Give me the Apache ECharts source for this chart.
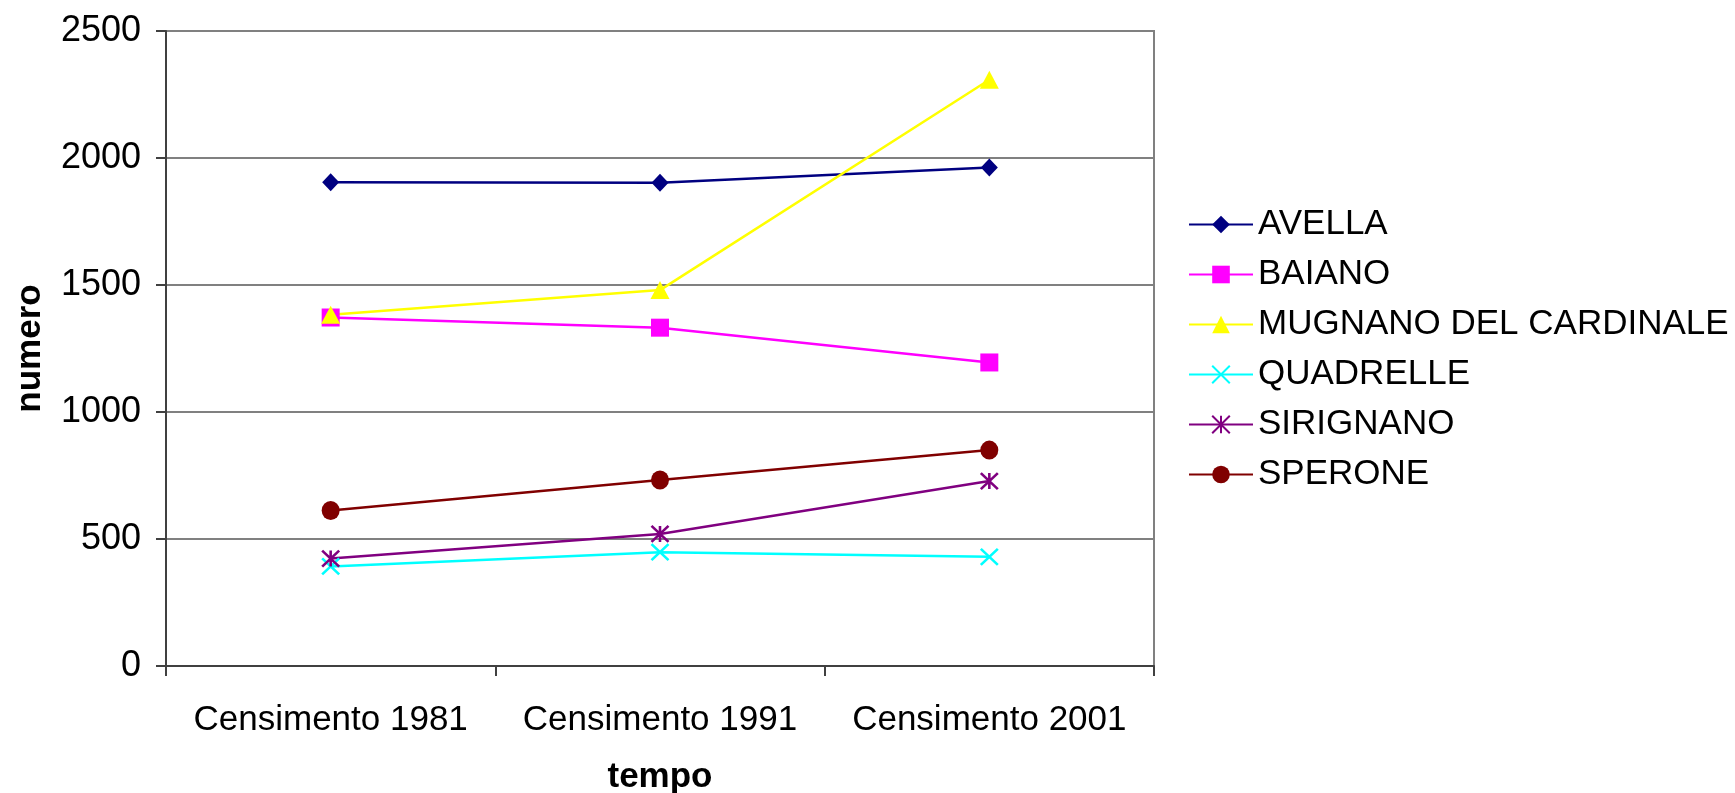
<!DOCTYPE html>
<html>
<head>
<meta charset="utf-8">
<script src="https://cdn.jsdelivr.net/npm/echarts@6/dist/echarts.min.js"></script>
<style>
html,body{margin:0;padding:0;background:#fff;}
#chart{width:1735px;height:793px;}
</style>
</head>
<body>
<div id="chart"></div>
<script>
const categories = ['Censimento 1981', 'Censimento 1991', 'Censimento 2001'];
const seriesNames = ['AVELLA', 'BAIANO', 'MUGNANO DEL CARDINALE', 'QUADRELLE', 'SIRIGNANO', 'SPERONE'];
const avella = [1905, 1903, 1963];
const baiano = [1372, 1332, 1195];
const mugnano = [1383, 1480, 2308];
const quadrelle = [392, 448, 430];
const sirignano = [423, 520, 728];
const sperone = [612, 732, 850];
const yTicks = [0, 500, 1000, 1500, 2000, 2500];

const values = [avella, baiano, mugnano, quadrelle, sirignano, sperone];
const colors = ['#000080', '#FF00FF', '#FFFF00', '#00FFFF', '#800080', '#800000'];
const symbols = ['diamond', 'rect', 'triangle',
  'path://M0,0L10,10M10,0L0,10',
  'path://M0,0L10,10M10,0L0,10M5,0L5,10',
  'circle'];
const sizes = [[17,18],[18,18],[19,18],[17,16],[17,16],[18,19]];

const FONT = 'Liberation Sans, Arial, sans-serif';

const series = seriesNames.map((n, i) => {
  const isPath = symbols[i].startsWith('path://');
  return {
    name: n,
    type: 'line',
    data: values[i],
    symbol: symbols[i],
    symbolSize: sizes[i],
    symbolKeepAspect: false,
    lineStyle: { color: colors[i], width: 2.5 },
    itemStyle: isPath ? { color: colors[i], borderColor: colors[i], borderWidth: 2.5 } : { color: colors[i], borderWidth: 0 },
    emphasis: { disabled: true },
    animation: false
  };
});

const chart = echarts.init(document.getElementById('chart'));
chart.setOption({
  backgroundColor: '#ffffff',
  animation: false,
  textStyle: { fontFamily: FONT, color: '#000' },
  grid: { left: 166, right: 581, top: 31, bottom: 127, containLabel: false, outerBoundsMode: 'none', show: true, borderColor: '#808080', borderWidth: 2, backgroundColor: 'transparent' },
  legend: {
    orient: 'vertical',
    left: 1183,
    top: 202,
    itemWidth: 64,
    itemHeight: 22,
    itemGap: 15,
    textStyle: { fontSize: 35, fontFamily: FONT, color: '#000', lineHeight: 35 },
    data: seriesNames
  },
  xAxis: {
    type: 'category',
    data: categories,
    boundaryGap: true,
    name: 'tempo',
    nameLocation: 'middle',
    nameGap: 94,
    nameTextStyle: { fontSize: 35, fontWeight: 'bold', fontFamily: FONT, color: '#000' },
    axisLine: { lineStyle: { color: '#404040', width: 2 } },
    axisTick: { show: true, length: 10, inside: false, lineStyle: { color: '#404040', width: 2 } },
    axisLabel: { fontSize: 35, margin: 37, interval: 0, color: '#000', fontFamily: FONT },
    splitLine: { show: false }
  },
  yAxis: {
    type: 'value',
    min: yTicks[0],
    max: yTicks[yTicks.length - 1],
    interval: yTicks[1] - yTicks[0],
    name: 'numero',
    nameLocation: 'middle',
    nameGap: 118,
    nameRotate: 90,
    nameTextStyle: { fontSize: 35, fontWeight: 'bold', fontFamily: FONT, color: '#000' },
    axisLine: { show: true, lineStyle: { color: '#404040', width: 2 } },
    axisTick: { show: true, length: 10, lineStyle: { color: '#404040', width: 2 } },
    axisLabel: { fontSize: 36, margin: 25, color: '#000', fontFamily: FONT, formatter: v => String(v) },
    splitLine: { show: true, lineStyle: { color: '#808080', width: 2 } }
  },
  series: series
});
</script>
</body>
</html>
